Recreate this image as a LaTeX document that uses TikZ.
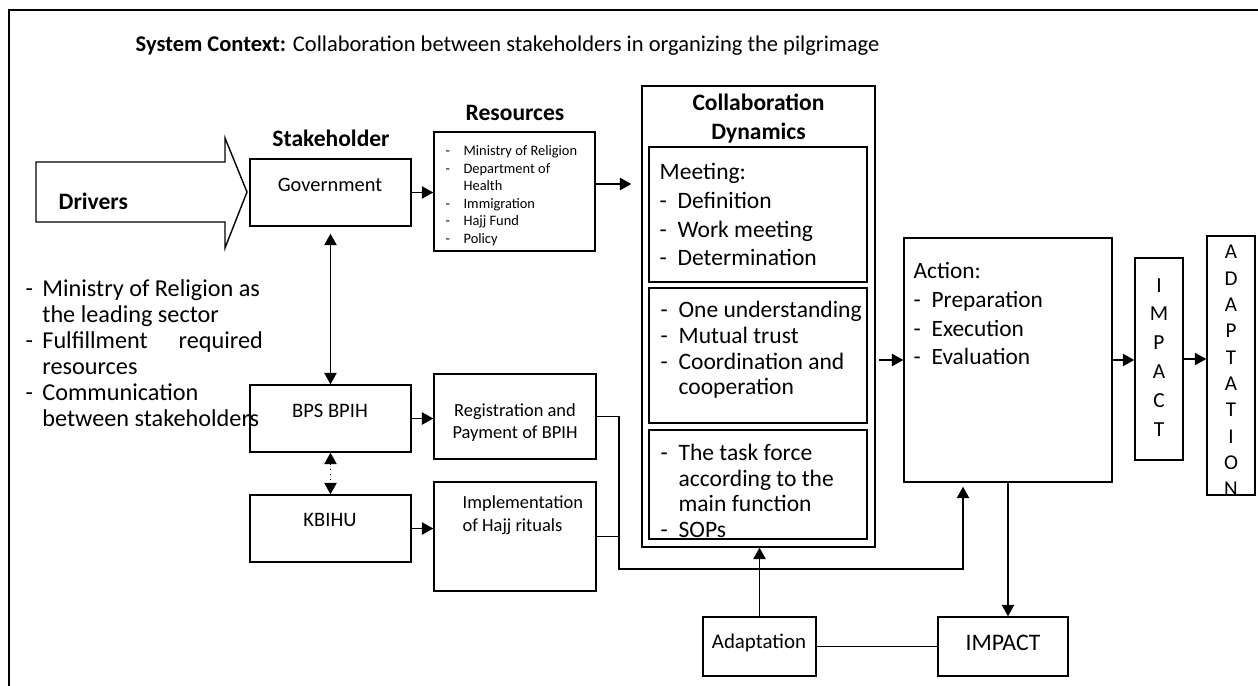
\documentclass[tikz,border=0pt]{standalone}
\usepackage{fontspec}
\setmainfont{Carlito}
\usetikzlibrary{positioning,calc,arrows.meta}

\newcommand{\dsh}[1]{\makebox[#1][l]{-}}

\begin{document}
\begin{tikzpicture}[x=0.02cm, y=-0.02cm, line width=0.8pt,
    box/.style={draw, inner sep=0pt},
    txt/.style={inner sep=0pt, align=left},
    arr/.style={-{Triangle[length=6.5pt,width=7pt]}},
    dbl/.style={{Triangle[length=6.5pt,width=7pt]}-{Triangle[length=6.5pt,width=7pt]}}]

  \useasboundingbox (0,0) rectangle (1258,686);
  \draw[line width=1.2pt] (9,686) -- (9,10) -- (1258,10);

  \node (title) [anchor=base west, inner sep=0pt, font=\fontsize{12.8}{15}\selectfont] at (135,52)
    {\textbf{System Context:} Collaboration between stakeholders in organizing the pilgrimage};

  % drivers
  \draw (36,162) -- (225,162) -- (225,138) -- (247,192) -- (225,248) -- (225,222) -- (36,222) -- cycle;
  \node (drv) [anchor=base west, inner sep=0pt, font=\bfseries\fontsize{13.4}{16}\selectfont] at (58,209) {Drivers};
  \node (drvlist) [txt, anchor=north west, font=\fontsize{13.8}{14.9}\selectfont] at (25,277)
    {\strut\dsh{9.5pt}Ministry of Religion as\\
     \hspace*{9.5pt}the leading sector\\
     \hbox to 135pt{\dsh{9.5pt}Fulfillment\hfill required}\\
     \hspace*{9.5pt}resources\\
     \dsh{9.5pt}Communication\\
     \hspace*{9.5pt}between stakeholders};

  % stakeholders
  \node (stake) [anchor=base, inner sep=0pt, font=\bfseries\fontsize{13.4}{16}\selectfont] at (331,147) {Stakeholder};
  \node (gov) [box, minimum width=3.22cm, minimum height=1.34cm] at (330.5,192.5) {};
  \node (govtxt) [anchor=base, inner sep=0pt, font=\fontsize{11.6}{14}\selectfont] at (330,192) {Government};
  \node (bps) [box, minimum width=3.22cm, minimum height=1.34cm] at (330.5,418.5) {};
  \node (bpstxt) [anchor=base, inner sep=0pt, font=\fontsize{11.7}{14}\selectfont] at (330,417) {BPS BPIH};
  \node (kbihu) [box, minimum width=3.22cm, minimum height=1.34cm] at (330.5,528.5) {};
  \node (kbihutxt) [anchor=base, inner sep=0pt, font=\fontsize{11.7}{14}\selectfont] at (330,526) {KBIHU};

  % resources
  \node (reslbl) [anchor=base, inner sep=0pt, font=\bfseries\fontsize{13.4}{16}\selectfont] at (515,121) {Resources};
  \node (res) [box, minimum width=3.22cm, minimum height=2.38cm] at (514.5,191.5) {};
  \node (reslist) [txt, anchor=north west, font=\fontsize{8.2}{10}\selectfont] at (445,142.7)
    {\strut\dsh{10.2pt}Ministry of Religion\\
     \dsh{10.2pt}Department of\\
     \hspace*{10.2pt}Health\\
     \dsh{10.2pt}Immigration\\
     \dsh{10.2pt}Hajj Fund\\
     \dsh{10.2pt}Policy};
  \node (reg) [box, minimum width=3.24cm, minimum height=1.70cm] at (515,416.5) {};
  \node (regtxt) [inner sep=0pt, align=center, anchor=north, font=\fontsize{10.5}{12.9}\selectfont] at (515,399.7)
    {\strut Registration and\\ Payment of BPIH};
  \node (impl) [box, minimum width=3.24cm, minimum height=2.18cm] at (515,536.5) {};
  \node (impltxt) [txt, anchor=north west, font=\fontsize{10.5}{12.9}\selectfont] at (462,492)
    {\strut Implementation\\ of Hajj rituals};

  % collaboration dynamics
  \node (collab) [box, minimum width=4.66cm, minimum height=9.22cm] at (758.5,316.5) {};
  \node (collabtxt) [inner sep=0pt, align=center, anchor=north, font=\bfseries\fontsize{13.4}{16.4}\selectfont] at (758.5,90)
    {\strut Collaboration\\ Dynamics};
  \node (meet) [box, minimum width=4.36cm, minimum height=2.70cm] at (758,214.5) {};
  \node (meettxt) [txt, anchor=north west, font=\fontsize{13.4}{16.4}\selectfont] at (659,158.6)
    {\strut Meeting:\\
     \dsh{10.2pt}Definition\\
     \dsh{10.2pt}Work meeting\\
     \dsh{10.2pt}Determination};
  \node (trust) [box, minimum width=4.36cm, minimum height=2.70cm] at (758,355.5) {};
  \node (trusttxt) [txt, anchor=north west, font=\fontsize{13.4}{14.6}\selectfont] at (660,299.1)
    {\strut\dsh{10.2pt}One understanding\\
     \dsh{10.2pt}Mutual trust\\
     \dsh{10.2pt}Coordination and\\
     \hspace*{10.2pt}cooperation};
  \node (task) [box, minimum width=4.36cm, minimum height=2.18cm] at (758,484.5) {};
  \node (tasktxt) [txt, anchor=north west, font=\fontsize{13.4}{14.6}\selectfont] at (660,441.8)
    {\strut\dsh{10.2pt}The task force\\
     \hspace*{10.2pt}according to the\\
     \hspace*{10.2pt}main function\\
     \dsh{10.2pt}SOPs};

  % action and outcomes
  \node (action) [box, minimum width=4.16cm, minimum height=4.88cm] at (1008,360) {};
  \node (actiontxt) [txt, anchor=north west, font=\fontsize{13.3}{16.4}\selectfont] at (913,257.6)
    {\strut Action:\\
     \dsh{10.2pt}Preparation\\
     \dsh{10.2pt}Execution\\
     \dsh{10.2pt}Evaluation};
  \node (impv) [box, minimum width=0.96cm, minimum height=4.04cm] at (1159,359) {};
  \node (impvtxt) [inner sep=0pt, align=center, anchor=north, font=\fontsize{12.2}{16.4}\selectfont] at (1159,271.2)
    {\strut I\\ M\\ P\\ A\\ C\\ T};
  \node (adaptv) [box, minimum width=0.96cm, minimum height=5.18cm] at (1231,365.5) {};
  \begin{scope}
    \clip (adaptv.north west) rectangle (adaptv.south east);
    \node (adaptvtxt) [inner sep=0pt, align=center, anchor=north, font=\fontsize{12}{15}\selectfont] at (1231,239.5)
      {\strut A\\ D\\ A\\ P\\ T\\ A\\ T\\ I\\ O\\ N};
  \end{scope}
  \node (adapt) [box, minimum width=2.26cm, minimum height=1.18cm] at (759.5,646.5) {};
  \node (adapttxt) [anchor=base, inner sep=0pt, font=\fontsize{11.9}{14}\selectfont] at (759,648) {Adaptation};
  \node (impact) [box, minimum width=2.60cm, minimum height=1.18cm] at (1003,646.5) {};
  \node (impacttxt) [anchor=base, inner sep=0pt, font=\fontsize{13.5}{16}\selectfont] at (1003,650) {IMPACT};

  % connectors
  \draw[arr] (gov.east) -- (gov.east -| res.west);
  \draw[arr, shorten >=0.2cm] ([yshift=0.15cm]res.east) -- ([yshift=0.15cm]res.east -| collab.west);
  \draw[dbl, shorten <=0.14cm] (gov.south) -- (bps.north);
  \draw[dbl, dotted] (bps.south) -- (kbihu.north);
  \draw[arr] (bps.east) -- (bps.east -| reg.west);
  \draw[arr] (kbihu.east) -- (kbihu.east -| impl.west);
  \coordinate (join) at (619,569);
  \draw[arr, shorten >=0.08cm] (reg.east) -- (reg.east -| join) -- (join) -| ([xshift=-0.9cm]action.south);
  \draw (impl.east) -- (impl.east -| join);
  \draw[arr] (adapt.north) -- (adapt.north |- collab.south);
  \draw (adapt.east) -- (impact.west);
  \draw[arr] (action.south) -- (action.south |- impact.north);
  \draw[arr, shorten <=0.06cm] (action.west -| collab.east) -- (action.west);
  \draw[arr] (action.east) -- (action.east -| impv.west);
  \draw[arr] (impv.east) -- (impv.east -| adaptv.west);
\end{tikzpicture}
\end{document}
